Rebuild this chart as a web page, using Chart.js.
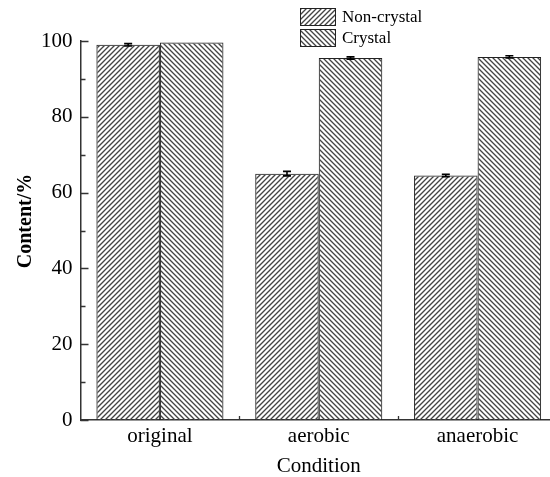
<!DOCTYPE html>
<html>
<head>
<meta charset="utf-8">
<script src="https://cdn.jsdelivr.net/npm/chart.js@4.4.0/dist/chart.umd.min.js"></script>
<style>
  html, body { margin: 0; padding: 0; background: #fff; overflow: hidden; }
  #wrap { position: relative; width: 560px; height: 477px; }
</style>
</head>
<body>
<div id="wrap"><canvas id="contentChart"></canvas></div>
<script>
// Content of non-crystal / crystal fraction per condition
const conditions = ['original', 'aerobic', 'anaerobic'];
const nonCrystal = [99.0, 65.0, 64.5];
const nonCrystalErr = [0.3, 0.6, 0.3];
const crystal = [99.6, 95.5, 95.8];
const crystalErr = [0, 0.3, 0.3];
const yTicks = [0, 20, 40, 60, 80, 100];

const FONT = '"Liberation Serif", "Times New Roman", serif';
const INK = '#333';

// diagonal hatch fill, dir 1 = "/" and -1 = "\"
function hatch(dir) {
    const s = 10, step = 5;
    const c = document.createElement('canvas');
    c.width = s; c.height = s;
    const g = c.getContext('2d');
    g.strokeStyle = '#444';
    g.lineWidth = 1.35;
    g.beginPath();
    for (let k = -s; k <= 2 * s; k += step) {
        if (dir > 0) {
            // x + y = k
            g.moveTo(k + 1, -1); g.lineTo(k - s - 1, s + 1);
        } else {
            // x - y = k
            g.moveTo(k - 1, -1); g.lineTo(k + s + 1, s + 1);
        }
    }
    g.stroke();
    return g.createPattern(c, 'repeat');
}

// inward tick marks on both axes
const innerTicks = {
    id: 'innerTicks',
    afterDraw(chart) {
        const { ctx, chartArea: a, scales: { x, y } } = chart;
        ctx.save();
        ctx.strokeStyle = INK;
        ctx.lineWidth = 1.3;
        ctx.beginPath();
        for (let v = 0; v <= 100; v += 10) {
            const py = Math.round(y.getPixelForValue(v)) + 0.5;
            const len = v % 20 === 0 ? 8 : 5;
            ctx.moveTo(a.left, py);
            ctx.lineTo(a.left + len, py);
        }
        for (let i = 0; i < conditions.length - 1; i++) {
            const px = Math.round((x.getPixelForValue(i) + x.getPixelForValue(i + 1)) / 2) + 0.5;
            ctx.moveTo(px, a.bottom);
            ctx.lineTo(px, a.bottom - 4);
        }
        ctx.stroke();
        ctx.restore();
    }
};

// error bars from the *Err arrays
const errorBars = {
    id: 'errorBars',
    afterDatasetsDraw(chart) {
        const { ctx } = chart;
        const y = chart.scales.y;
        const errs = [nonCrystalErr, crystalErr];
        ctx.save();
        ctx.strokeStyle = '#000';
        ctx.lineWidth = 1.6;
        chart.data.datasets.forEach((ds, di) => {
            chart.getDatasetMeta(di).data.forEach((bar, i) => {
                const v = ds.data[i];
                const e = errs[di][i];
                if (!e) return;
                const top = y.getPixelForValue(v + e);
                const bot = y.getPixelForValue(v - e);
                const cx = bar.x;
                ctx.beginPath();
                ctx.moveTo(cx, top); ctx.lineTo(cx, bot);
                ctx.moveTo(cx - 4, top); ctx.lineTo(cx + 4, top);
                ctx.moveTo(cx - 4, bot); ctx.lineTo(cx + 4, bot);
                ctx.stroke();
            });
        });
        ctx.restore();
    }
};

// boxed legend in the top area, plus the rotated y title
const boxLegend = {
    id: 'boxLegend',
    afterDraw(chart) {
        const { ctx } = chart;
        const rows = [8.5, 29.5];
        ctx.save();
        ctx.font = '17px ' + FONT;
        ctx.textBaseline = 'middle';
        chart.data.datasets.forEach((ds, i) => {
            const top = rows[i];
            ctx.fillStyle = ds.backgroundColor;
            ctx.fillRect(300.5, top, 35, 17);
            ctx.strokeStyle = '#222';
            ctx.lineWidth = 1;
            ctx.strokeRect(300.5, top, 35, 17);
            ctx.fillStyle = '#000';
            ctx.fillText(ds.label, 342, top + 9);
        });

        ctx.translate(26, 221);
        ctx.rotate(-Math.PI / 2);
        ctx.font = 'bold 20px ' + FONT;
        ctx.textAlign = 'center';
        ctx.fillText('Content/%', 0, 0);
        ctx.restore();
    }
};

new Chart(document.getElementById('contentChart'), {
    type: 'bar',
    data: {
        labels: conditions,
        datasets: [{
            label: 'Non-crystal',
            data: nonCrystal,
            backgroundColor: hatch(1),
            borderColor: '#222',
            borderWidth: 1
        }, {
            label: 'Crystal',
            data: crystal,
            backgroundColor: hatch(-1),
            borderColor: '#222',
            borderWidth: 1
        }]
    },
    options: {
        responsive: true,
        maintainAspectRatio: false,
        animation: false,
        categoryPercentage: 0.8,
        barPercentage: 1.0,
        layout: { padding: { top: 41, right: 3, left: 0, bottom: 0 } },
        plugins: {
            legend: { display: false },
            tooltip: { enabled: false }
        },
        scales: {
            x: {
                grid: { display: false, drawTicks: false },
                border: { display: true, color: INK, width: 1.5 },
                ticks: { color: '#000', font: { family: FONT, size: 21 }, padding: 4 },
                title: { display: true, text: 'Condition', color: '#000', font: { family: FONT, size: 21, lineHeight: 1.0 }, padding: { top: 0, bottom: 0 } },
                afterFit(s) { s.height = 57; }
            },
            y: {
                min: 0,
                max: 100,
                afterBuildTicks(s) { s.ticks = yTicks.map(v => ({ value: v })); },
                grid: { display: false, drawTicks: false },
                border: { display: true, color: INK, width: 1.5 },
                ticks: { color: '#000', font: { family: FONT, size: 21 }, padding: 8 },
                afterFit(s) { s.width = 80.5; }
            }
        }
    },
    plugins: [innerTicks, errorBars, boxLegend]
});
</script>
</body>
</html>
